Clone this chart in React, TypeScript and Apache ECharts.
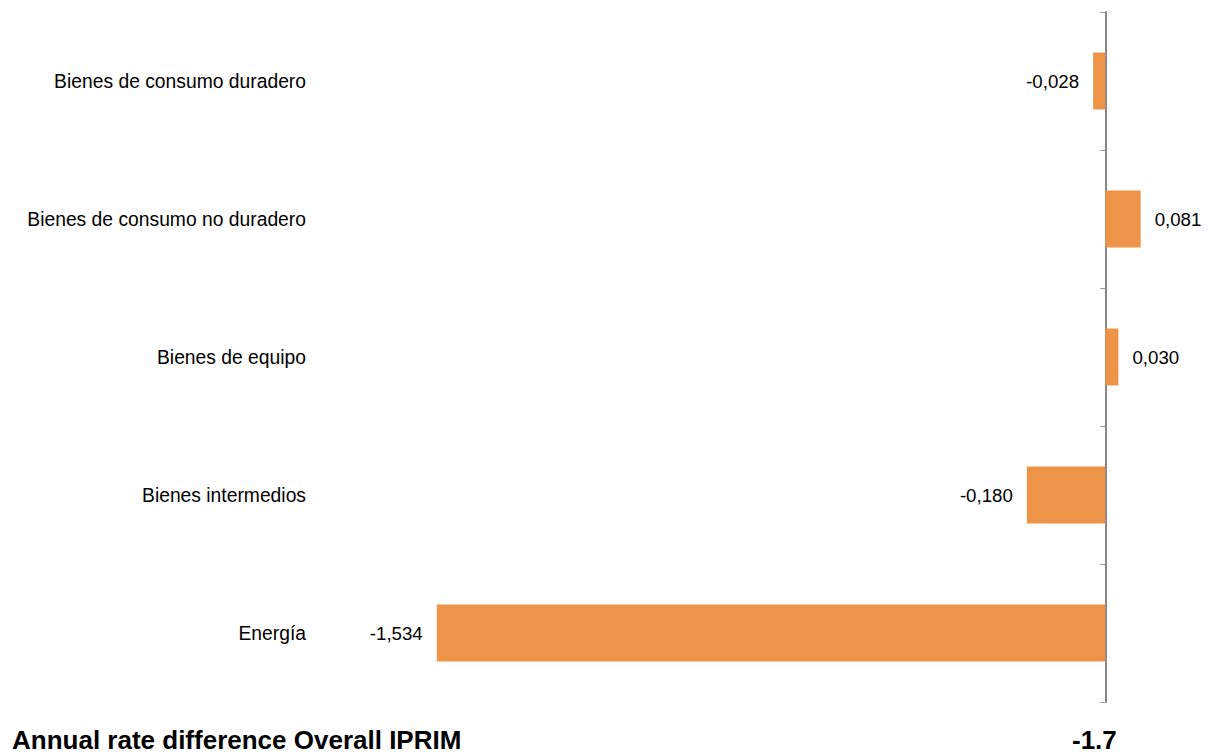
import React, { useEffect, useRef } from "react";
import * as echarts from "echarts";

const categories = [
  "Bienes de consumo duradero",
  "Bienes de consumo no duradero",
  "Bienes de equipo",
  "Bienes intermedios",
  "Energía",
];
const values = [-0.028, 0.081, 0.03, -0.18, -1.534];
const footerLabel = "Annual rate difference Overall IPRIM";
const footerValue = "-1.7";

const FONT = 'Arial, "Liberation Sans", sans-serif';

export default function App() {
  const ref = useRef<HTMLDivElement>(null);
  useEffect(() => {
    if (!ref.current) return;
    const chart = echarts.init(ref.current, null, { renderer: "svg" });
    const fmt = (v: number) => v.toFixed(3).replace(".", ",");
    chart.setOption({
      animation: false,
      backgroundColor: "#ffffff",
      grid: {
        left: 408,
        right: 19.5,
        top: 12,
        bottom: 52,
        containLabel: false,
        outerBoundsMode: "none",
      },
      xAxis: {
        type: "value",
        min: -1.6,
        max: 0.2,
        show: false,
        splitLine: { show: false },
      },
      yAxis: {
        type: "category",
        inverse: true,
        data: categories,
        axisLine: { show: true, onZero: true, lineStyle: { color: "#868686", width: 2 } },
        axisTick: { show: true, length: 5, lineStyle: { color: "#9a9a9a", width: 1 } },
        axisLabel: {
          margin: 102,
          color: "#000000",
          fontFamily: FONT,
          fontSize: 19.3,
        },
      },
      series: [
        {
          type: "bar",
          barWidth: 57,
          data: values.map((v) => ({
            value: v,
            label: { position: v < 0 ? "left" : "right" },
          })),
          itemStyle: { color: "#ED9448" },
          label: {
            show: true,
            distance: 14,
            color: "#000000",
            fontFamily: FONT,
            fontSize: 18.7,
            formatter: (p: any) => fmt(p.value),
          },
        },
      ],
      graphic: [
        {
          type: "text",
          left: 12,
          top: 727,
          style: {
            text: footerLabel,
            font: `bold 26px ${FONT}`,
            fill: "#000000",
          },
        },
        {
          type: "text",
          left: 1072,
          top: 727,
          style: {
            text: footerValue,
            font: `bold 26px ${FONT}`,
            fill: "#000000",
          },
        },
      ],
    });
    return () => chart.dispose();
  }, []);
  return (
    <div
      ref={ref}
      style={{ position: "absolute", left: 0, top: 0, width: 1212, height: 754 }}
    />
  );
}
